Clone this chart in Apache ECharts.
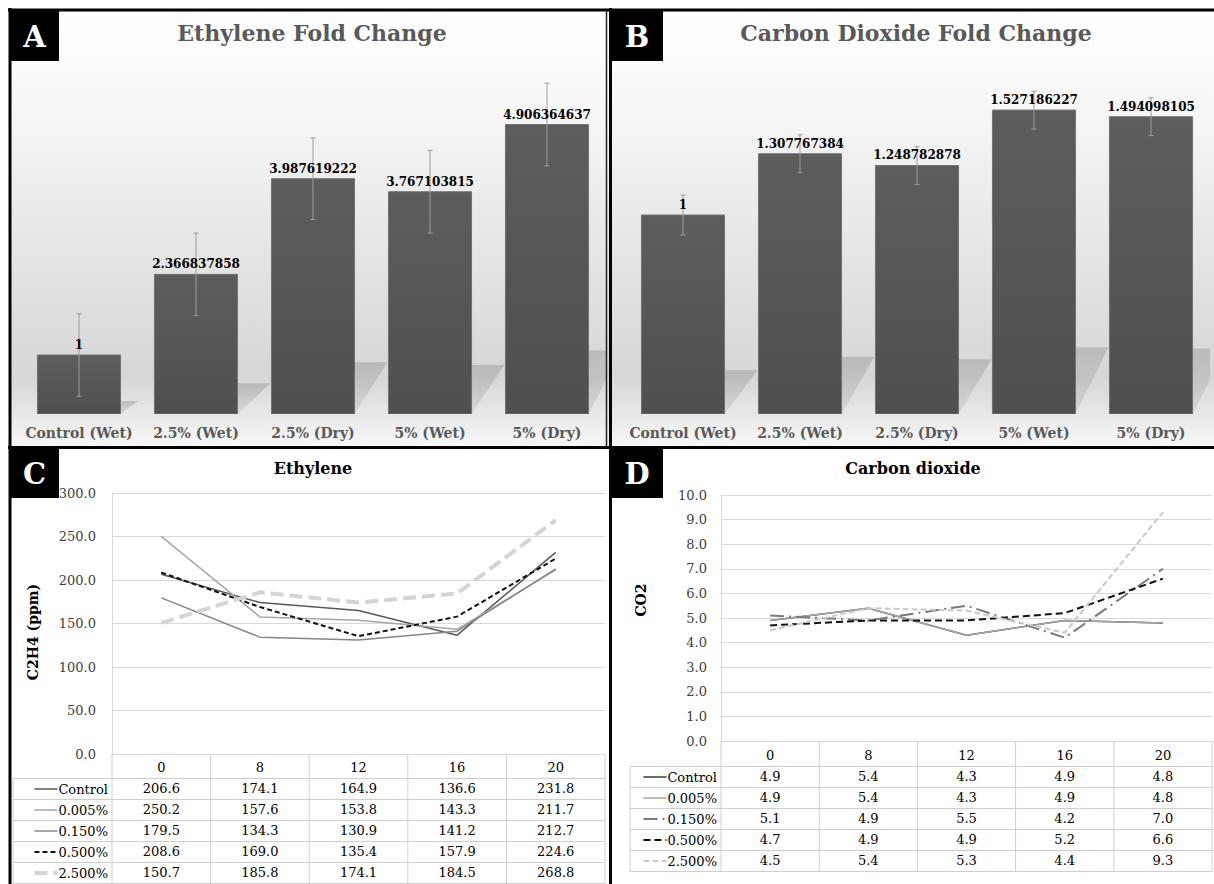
<!DOCTYPE html>
<html><head><meta charset="utf-8">
<script src="https://cdn.jsdelivr.net/npm/echarts@6/dist/echarts.min.js"></script>
<style>html,body{margin:0;padding:0;background:#fff}#c{width:1214px;height:884px}</style>
</head><body><div id="c"></div>
<script>
// ---------- data ----------
const barCategories = ['Control (Wet)', '2.5% (Wet)', '2.5% (Dry)', '5% (Wet)', '5% (Dry)'];
const ethyleneFold = [1, 2.366837858, 3.987619222, 3.767103815, 4.906364637];
const ethyleneFoldErr = [0.70, 0.70, 0.69, 0.70, 0.70];
const co2Fold = [1, 1.307767384, 1.248782878, 1.527186227, 1.494098105];
const co2FoldErr = [0.10, 0.095, 0.095, 0.095, 0.095];

const hours = ['0', '8', '12', '16', '20'];
const treatments = ['Control', '0.005%', '0.150%', '0.500%', '2.500%'];

const ethyleneControl = [206.6, 174.1, 164.9, 136.6, 231.8];
const ethylene0005 = [250.2, 157.6, 153.8, 143.3, 211.7];
const ethylene0150 = [179.5, 134.3, 130.9, 141.2, 212.7];
const ethylene0500 = [208.6, 169.0, 135.4, 157.9, 224.6];
const ethylene2500 = [150.7, 185.8, 174.1, 184.5, 268.8];

const co2Control = [4.9, 5.4, 4.3, 4.9, 4.8];
const co20005 = [4.9, 5.4, 4.3, 4.9, 4.8];
const co20150 = [5.1, 4.9, 5.5, 4.2, 7.0];
const co20500 = [4.7, 4.9, 4.9, 5.2, 6.6];
const co22500 = [4.5, 5.4, 5.3, 4.4, 9.3];

const ethyleneRows = [ethyleneControl, ethylene0005, ethylene0150, ethylene0500, ethylene2500];
const co2Rows = [co2Control, co20005, co20150, co20500, co22500];

// ---------- styles ----------
const FONT = '"DejaVu Serif", "Liberation Serif", serif';
const cStyles = [
  {color: '#5a5a5a', width: 1.5, type: 'solid'},
  {color: '#a6a6a6', width: 1.5, type: 'solid'},
  {color: '#878787', width: 1.5, type: 'solid'},
  {color: '#111111', width: 2, type: [5, 3]},
  {color: '#d4d4d4', width: 4, type: [13, 6]}
];
const dStyles = [
  {color: '#3a3a3a', width: 1.5, type: 'solid'},
  {color: '#a6a6a6', width: 1.5, type: 'solid'},
  {color: '#7a7a7a', width: 2, type: [14, 5, 2, 5]},
  {color: '#111111', width: 2, type: [7, 4]},
  {color: '#c9c9c9', width: 2, type: [6, 3]}
];

const chart = echarts.init(document.getElementById('c'), null, {renderer: 'svg'});

function barRender(values, errs) {
  return function (params, api) {
    const i = api.value(0), v = api.value(1);
    const top = api.coord([i, v]);
    const base = api.coord([i, 0]);
    const band = api.size([1, 0])[0];
    const bw = band * 0.71;
    const l = top[0] - bw / 2, r = top[0] + bw / 2;
    const h = base[1] - top[1];
    const dy = h * 0.22, dx = Math.min(33, h * 0.3);
    const e = errs[params.dataIndex];
    const eTop = api.coord([i, v + e])[1], eBot = api.coord([i, v - e])[1];
    const cx = top[0];
    return {type: 'group', children: [
      {type: 'polygon', shape: {points: [[l, base[1]], [r, base[1]], [r + dx, base[1] - dy], [l + dx, base[1] - dy]]},
        style: {fill: new echarts.graphic.LinearGradient(0, 0, 0, 1, [{offset: 0, color: 'rgba(165,165,165,0.6)'}, {offset: 1, color: 'rgba(185,185,185,0.35)'}])}},
      {type: 'rect', shape: {x: l, y: top[1], width: bw, height: h},
        style: {fill: new echarts.graphic.LinearGradient(0, 0, 0, 1, [{offset: 0, color: '#5d5d5d'}, {offset: 1, color: '#4f4f4f'}]),
          stroke: '#727272', lineWidth: 1}},
      {type: 'line', shape: {x1: cx, y1: eTop, x2: cx, y2: eBot}, style: {stroke: '#9c9c9c', lineWidth: 1}},
      {type: 'line', shape: {x1: cx - 2.5, y1: eTop, x2: cx + 2.5, y2: eTop}, style: {stroke: '#9c9c9c', lineWidth: 1}},
      {type: 'line', shape: {x1: cx - 2.5, y1: eBot, x2: cx + 2.5, y2: eBot}, style: {stroke: '#9c9c9c', lineWidth: 1}},
      {type: 'text', style: {text: String(values[params.dataIndex]), x: cx, y: top[1] - 4, align: 'center', verticalAlign: 'bottom',
        font: 'bold 12px ' + FONT, fill: '#000'}}
    ]};
  };
}

const ctx = document.createElement('canvas').getContext('2d');
ctx.font = '13px "DejaVu Serif"';

function tableGraphics(x0, gl, gr, axisY, headerBottom, rowH, styles) {
  const els = [];
  const n = treatments.length;
  const line = (x1, y1, x2, y2) => els.push({type: 'line', z: 5, shape: {x1, y1, x2, y2}, style: {stroke: '#cfcfcf', lineWidth: 1}});
  for (let j = 0; j <= n; j++) line(x0, headerBottom + j * rowH, gr, headerBottom + j * rowH);
  const cw = (gr - gl) / hours.length;
  for (let i = 0; i <= hours.length; i++) line(gl + i * cw, axisY, gl + i * cw, headerBottom + n * rowH);
  line(x0, headerBottom, x0, headerBottom + n * rowH);
  treatments.forEach((t, j) => {
    const cy = headerBottom + j * rowH + rowH / 2;
    const w = ctx.measureText(t).width;
    const tx = gl - 4;
    els.push({type: 'text', z: 6, style: {text: t, x: tx, y: cy, align: 'right', verticalAlign: 'middle', font: '13px ' + FONT, fill: '#000'}});
    const s = styles[j];
    els.push({type: 'line', z: 6, shape: {x1: tx - w - 24, y1: cy, x2: tx - w - 1, y2: cy},
      style: {stroke: s.color, lineWidth: s.width, lineDash: s.type === 'solid' ? null : s.type}});
  });
  return els;
}

const valAxisBase = (gi, min, max, interval, margin) => ({
  gridIndex: gi, type: 'value', min, max, interval,
  axisLine: {show: true, lineStyle: {color: '#d9d9d9'}}, axisTick: {show: false},
  splitLine: {lineStyle: {color: '#d9d9d9'}},
  axisLabel: {formatter: v => v.toFixed(1), fontFamily: FONT, fontSize: 13, color: '#404040', margin}
});

const catLabel = {interval: 0, fontFamily: FONT, fontWeight: 'bold', fontSize: 14, color: '#595959', margin: 12};
const xAxes = [
  {gridIndex: 0, type: 'category', data: barCategories, axisLine: {show: false}, axisTick: {show: false}, axisLabel: catLabel},
  {gridIndex: 1, type: 'category', data: barCategories, axisLine: {show: false}, axisTick: {show: false}, axisLabel: catLabel},
  {gridIndex: 2, type: 'category', data: hours, axisLine: {lineStyle: {color: '#d9d9d9'}}, axisTick: {show: false},
    axisLabel: {interval: 0, fontFamily: FONT, fontSize: 13, color: '#000', margin: 7}},
  {gridIndex: 3, type: 'category', data: hours, axisLine: {lineStyle: {color: '#d9d9d9'}}, axisTick: {show: false},
    axisLabel: {interval: 0, fontFamily: FONT, fontSize: 13, color: '#000', margin: 8}}
];
ethyleneRows.forEach((row, k) => xAxes.push({gridIndex: 2, type: 'category', data: hours, position: 'bottom', offset: 21 * (k + 1),
  axisLine: {show: false}, axisTick: {show: false},
  axisLabel: {interval: 0, formatter: (v, idx) => row[idx].toFixed(1), fontFamily: FONT, fontSize: 13, color: '#000', margin: 7}}));
co2Rows.forEach((row, k) => xAxes.push({gridIndex: 3, type: 'category', data: hours, position: 'bottom', offset: 21 * (k + 1),
  axisLine: {show: false}, axisTick: {show: false},
  axisLabel: {interval: 0, formatter: (v, idx) => row[idx].toFixed(1), fontFamily: FONT, fontSize: 13, color: '#000', margin: 8}}));

const series = [
  {type: 'custom', xAxisIndex: 0, yAxisIndex: 0, clip: true, encode: {x: 0, y: 1},
    data: ethyleneFold.map((v, i) => [i, v]), renderItem: barRender(ethyleneFold, ethyleneFoldErr)},
  {type: 'custom', xAxisIndex: 1, yAxisIndex: 1, clip: true, encode: {x: 0, y: 1},
    data: co2Fold.map((v, i) => [i, v]), renderItem: barRender(co2Fold, co2FoldErr)}
];
treatments.forEach((t, j) => series.push({type: 'line', name: 'C ' + t, xAxisIndex: 2, yAxisIndex: 2, data: ethyleneRows[j],
  symbol: 'none', lineStyle: cStyles[j], z: 3}));
treatments.forEach((t, j) => series.push({type: 'line', name: 'D ' + t, xAxisIndex: 3, yAxisIndex: 3, data: co2Rows[j],
  symbol: 'none', lineStyle: dStyles[j], z: 3}));

const panelBg = (x, w) => ({type: 'rect', z: -10, shape: {x, y: 10, width: w, height: 438},
  style: {fill: new echarts.graphic.LinearGradient(0, 0, 0, 1, [
    {offset: 0, color: '#ffffff'}, {offset: 0.12, color: '#fcfcfc'}, {offset: 0.84, color: '#d6d6d6'}, {offset: 1, color: '#f8f8f8'}])}});

const frame = [];
const fl = (x1, y1, x2, y2, w, c) => frame.push({type: 'line', z: 100, shape: {x1, y1, x2, y2}, style: {stroke: c || '#000', lineWidth: w || 3}});
fl(8, 10, 1214, 10); fl(10, 8, 10, 884); fl(610.5, 8, 610.5, 884); fl(8, 447.5, 1214, 447.5);
fl(606.5, 10, 606.5, 447, 1.5, '#222');
const box = (x, y, w, h, t) => {
  frame.push({type: 'rect', z: 101, shape: {x, y, width: w, height: h}, style: {fill: '#000'}});
  frame.push({type: 'text', z: 102, style: {text: t, x: x + w / 2, y: y + h / 2 + 1, align: 'center', verticalAlign: 'middle',
    font: 'bold 29px ' + FONT, fill: '#fff'}});
};
box(10, 10, 49, 51, 'A'); box(611, 10, 52, 51, 'B'); box(10, 448, 49, 50, 'C'); box(611, 448, 52, 50, 'D');

const texts = [
  {type: 'text', z: 20, style: {text: 'Ethylene Fold Change', x: 312, y: 33, align: 'center', verticalAlign: 'middle', font: 'bold 22px ' + FONT, fill: '#595959'}},
  {type: 'text', z: 20, style: {text: 'Carbon Dioxide Fold Change', x: 916, y: 33, align: 'center', verticalAlign: 'middle', font: 'bold 22px ' + FONT, fill: '#595959'}},
  {type: 'text', z: 20, style: {text: 'Ethylene', x: 313, y: 468, align: 'center', verticalAlign: 'middle', font: 'bold 16px ' + FONT, fill: '#000'}},
  {type: 'text', z: 20, style: {text: 'Carbon dioxide', x: 913, y: 468, align: 'center', verticalAlign: 'middle', font: 'bold 16px ' + FONT, fill: '#000'}},
  {type: 'text', z: 20, x: 33, y: 632, rotation: Math.PI / 2, style: {text: 'C2H4 (ppm)', x: 0, y: 0, align: 'center', verticalAlign: 'middle', font: 'bold 14px ' + FONT, fill: '#000'}},
  {type: 'text', z: 20, x: 641, y: 600, rotation: Math.PI / 2, style: {text: 'CO2', x: 0, y: 0, align: 'center', verticalAlign: 'middle', font: 'bold 14px ' + FONT, fill: '#000'}}
];

const graphics = [panelBg(10, 600), panelBg(610, 604)]
  .concat(tableGraphics(13, 112, 605, 754, 778.5, 21, cStyles))
  .concat(tableGraphics(630, 721, 1212, 741, 766.5, 21, dStyles))
  .concat(texts).concat(frame);

chart.setOption({
  animation: false,
  grid: [
    {left: 20.5, right: 1214 - 605.5, top: 60, bottom: 884 - 414},
    {left: 624.5, right: 1214 - 1209.5, top: 414 - 1.8 * 199, bottom: 884 - 414},
    {left: 112, right: 1214 - 605, top: 493, bottom: 884 - 754},
    {left: 721, right: 1214 - 1212, top: 495, bottom: 884 - 741}
  ],
  xAxis: xAxes,
  yAxis: [
    {gridIndex: 0, type: 'value', min: 0, max: 6, show: false},
    {gridIndex: 1, type: 'value', min: 0, max: 1.8, show: false},
    valAxisBase(2, 0, 300, 50, 16),
    valAxisBase(3, 0, 10, 1, 14)
  ],
  series,
  graphic: graphics
});
</script></body></html>
